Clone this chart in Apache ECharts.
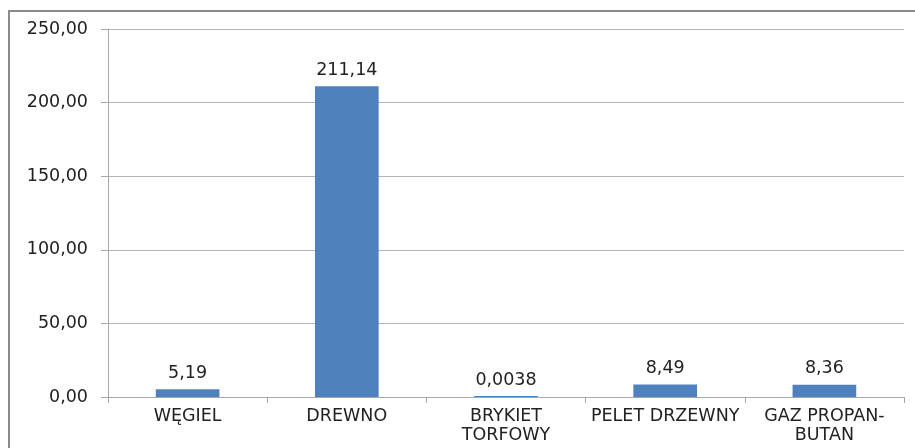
<!DOCTYPE html>
<html><head><meta charset="utf-8">
<script src="https://cdn.jsdelivr.net/npm/echarts@6/dist/echarts.min.js"></script>
<style>html,body{margin:0;padding:0;background:#fff}#c{width:915px;height:448px}</style>
</head><body><div id="c"></div>
<script>
const categories = ['WĘGIEL', 'DREWNO', 'BRYKIET\nTORFOWY', 'PELET DRZEWNY', 'GAZ PROPAN-\nBUTAN'];
const values = [5.19, 211.14, 0.0038, 8.49, 8.36];
const valueLabels = ['5,19', '211,14', '0,0038', '8,49', '8,36'];
const yTicks = [0, 50, 100, 150, 200, 250];

const chart = echarts.init(document.getElementById('c'));
chart.setOption({
  animation: false,
  backgroundColor: '#fff',
  graphic: [{
    type: 'rect', shape: { x: 9, y: 11, width: 1000, height: 1000 },
    style: { fill: 'none', stroke: '#8a8a8a', lineWidth: 2 }, silent: true
  }],
  grid: { left: 108, right: 11, top: 29, bottom: 51, containLabel: false },
  xAxis: {
    type: 'category', data: categories,
    axisLine: { lineStyle: { color: '#a6a6a6', width: 1 } },
    axisTick: { show: true, length: 6, alignWithLabel: false, lineStyle: { color: '#a6a6a6' } },
    axisLabel: { interval: 0, color: '#222', fontFamily: 'DejaVu Sans', fontSize: 17.5, margin: 10, lineHeight: 19 }
  },
  yAxis: {
    type: 'value', min: 0, max: 250, interval: 50,
    axisLine: { show: true, lineStyle: { color: '#a6a6a6', width: 1 } },
    axisTick: { show: true, length: 7, lineStyle: { color: '#a6a6a6' } },
    splitLine: { lineStyle: { color: '#b4b4b4', width: 1 } },
    axisLabel: {
      color: '#222', fontFamily: 'DejaVu Sans', fontSize: 17.5, margin: 20,
      formatter: v => yTicks.includes(v) ? v.toFixed(2).replace('.', ',') : ''
    }
  },
  series: [{
    type: 'bar', data: values, barWidth: '40%', barMinHeight: 1,
    itemStyle: { color: '#4F81BD' },
    label: {
      show: true, position: 'top', distance: 7, color: '#222',
      fontFamily: 'DejaVu Sans', fontSize: 17.5,
      formatter: p => valueLabels[p.dataIndex]
    }
  }]
});
</script></body></html>
